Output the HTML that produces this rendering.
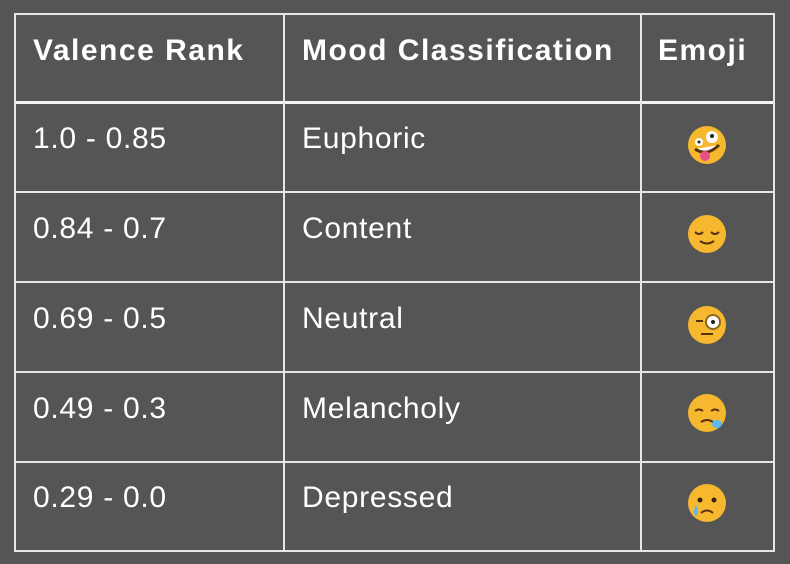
<!DOCTYPE html>
<html><head><meta charset="utf-8"><style>
body{margin:0;width:790px;height:564px;background:#555555;overflow:hidden;font-family:"Liberation Sans",sans-serif;color:#fff;position:relative}
.v{position:absolute;background:#e6e6e6;width:2px}
.h{position:absolute;background:#e6e6e6;height:2px;left:14px;width:761px}
.t{position:absolute;font-size:30px;line-height:30px;white-space:nowrap;letter-spacing:0.7px}
.hd{font-weight:bold;font-size:30px;letter-spacing:1.5px}
.emo{position:absolute;width:40px;height:40px}
</style></head><body>
<div>
<div class="h" style="top:13px"></div>
<div class="h" style="top:101px;height:3px;background:#f4f4f4"></div>
<div class="h" style="top:191px"></div>
<div class="h" style="top:281px"></div>
<div class="h" style="top:371px"></div>
<div class="h" style="top:461px"></div>
<div class="h" style="top:550px"></div>
<div class="v" style="left:14px;top:13px;height:539px"></div>
<div class="v" style="left:283px;top:13px;height:539px"></div>
<div class="v" style="left:640px;top:13px;height:539px"></div>
<div class="v" style="left:773px;top:13px;height:539px"></div>

<div class="t hd" style="left:33px;top:36px">Valence Rank</div>
<div class="t hd" style="left:302px;top:36px">Mood Classification</div>
<div class="t hd" style="left:658px;top:36px">Emoji</div>

<div class="t" style="left:33px;top:124px">1.0 - 0.85</div>
<div class="t" style="left:302px;top:124px">Euphoric</div>
<div class="t" style="left:33px;top:214px">0.84 - 0.7</div>
<div class="t" style="left:302px;top:214px">Content</div>
<div class="t" style="left:33px;top:304px">0.69 - 0.5</div>
<div class="t" style="left:302px;top:304px">Neutral</div>
<div class="t" style="left:33px;top:394px">0.49 - 0.3</div>
<div class="t" style="left:302px;top:394px">Melancholy</div>
<div class="t" style="left:33px;top:483px">0.29 - 0.0</div>
<div class="t" style="left:302px;top:483px">Depressed</div>

<svg class="emo" style="left:687px;top:125px" viewBox="0 0 40 40"><circle cx="20" cy="20" r="19" fill="#f5b82e"/><circle cx="12" cy="17" r="4" fill="#fff"/><circle cx="25" cy="12" r="6" fill="#fff"/><circle cx="12" cy="17" r="1.5" fill="#222"/><circle cx="25" cy="11" r="2" fill="#222"/><path d="M8 24 Q20 32 32 20" stroke="#5a3210" stroke-width="3" fill="#fff"/><ellipse cx="18" cy="31" rx="5" ry="5" fill="#e4508a"/></svg>
<svg class="emo" style="left:687px;top:214px" viewBox="0 0 40 40"><circle cx="20" cy="20" r="19" fill="#f5b82e"/><path d="M8 18 Q12 22 16 18 M24 18 Q28 22 32 18" stroke="#5a3210" stroke-width="2" fill="none"/><path d="M13 27 Q20 32 27 27" stroke="#5a3210" stroke-width="2" fill="none"/></svg>
<svg class="emo" style="left:687px;top:305px" viewBox="0 0 40 40"><circle cx="20" cy="20" r="19" fill="#f5b82e"/><circle cx="26" cy="17" r="7" fill="#fff" stroke="#8a6a20" stroke-width="2"/><circle cx="26" cy="17" r="2" fill="#222"/><path d="M9 16 h7" stroke="#5a3210" stroke-width="2"/><path d="M14 29 h12" stroke="#5a3210" stroke-width="2"/></svg>
<svg class="emo" style="left:687px;top:393px" viewBox="0 0 40 40"><circle cx="20" cy="20" r="19" fill="#f5b82e"/><path d="M8 18 Q12 15 16 18 M24 18 Q28 15 32 18" stroke="#5a3210" stroke-width="2" fill="none"/><path d="M14 29 Q20 25 26 29" stroke="#5a3210" stroke-width="2" fill="none"/><ellipse cx="30" cy="31" rx="5" ry="4" fill="#5bb8f0"/></svg>
<svg class="emo" style="left:687px;top:483px" viewBox="0 0 40 40"><circle cx="20" cy="20" r="19" fill="#f5b82e"/><circle cx="13" cy="17" r="2.5" fill="#3a2210"/><circle cx="27" cy="17" r="2.5" fill="#3a2210"/><path d="M14 30 Q20 25 26 30" stroke="#5a3210" stroke-width="2" fill="none"/><path d="M9 22 Q5 30 9 33 Q13 30 9 22" fill="#5bb8f0"/></svg>
</div>
</body></html>
